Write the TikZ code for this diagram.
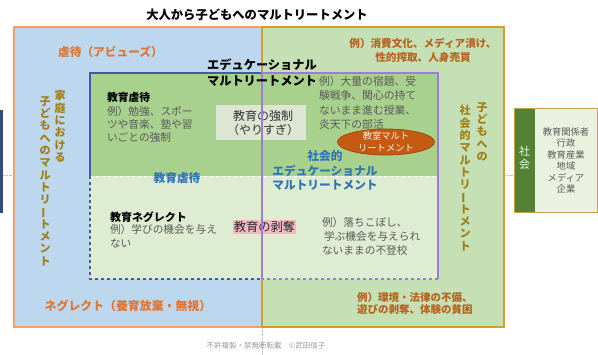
\documentclass[tikz,border=0pt]{standalone}
\usepackage{fontspec}
\usepackage{graphicx}
\setmainfont{Noto Sans CJK JP}
\usetikzlibrary{shapes.geometric}
\definecolor{bluefill}{HTML}{BDD7EE}
\definecolor{orangeline}{HTML}{F2A06A}
\definecolor{greenfill}{HTML}{C5E0B4}
\definecolor{goldline}{HTML}{C9A22E}
\definecolor{darkgreen}{HTML}{A9D18E}
\definecolor{lightgreen}{HTML}{DEEDD1}
\definecolor{innerblue}{HTML}{3C5DA3}
\definecolor{purp}{HTML}{9B7BE3}
\definecolor{forcebox}{HTML}{DCE6D3}
\definecolor{pinkbox}{HTML}{F4BAC3}
\definecolor{ellfill}{HTML}{C55A11}
\definecolor{ellline}{HTML}{A3470C}
\definecolor{socdark}{HTML}{548235}
\definecolor{soclight}{HTML}{EBF1DF}
\definecolor{socline}{HTML}{C2A54A}
\definecolor{orangetxt}{HTML}{DE7634}
\definecolor{browntxt}{HTML}{B8621F}
\definecolor{goldtxt}{HTML}{A37E16}
\definecolor{graytxt}{HTML}{595959}
\definecolor{bluetxt}{HTML}{2E75B6}
\newcommand{\vchoon}{\rotatebox[origin=c]{90}{ー}}
\newcommand{\fs}[2]{\fontsize{#1}{#2}\selectfont}
\tikzset{
  txt/.style={inner sep=0pt, outer sep=0pt},
  vtext/.style={txt, align=center, anchor=north, text=goldtxt, font=\bfseries\fs{11}{12.3}},
  example/.style={txt, align=left, anchor=base west, text=graytxt, font=\fs{10.7}{13}},
}
\begin{document}
\begin{tikzpicture}[x=1pt,y=-1pt]
\useasboundingbox (0,0) rectangle (598,354);
\fill[white] (0,0) rectangle (598,354);
% artifacts at edges
\fill[innerblue!80!black] (0,110) rectangle (3,213);
\draw[gray!50, densely dotted] (3,175) -- (14,175);
\draw[gray!50, densely dotted] (504,175) -- (514,175);
\draw[gray!50, densely dotted] (262,327) -- (262,354);
% outer regions
\fill[bluefill] (14,27) rectangle (262,327);
\fill[greenfill] (262,27) rectangle (504,327);
\draw[orangeline, line width=1.5pt] (262,27) -- (14,27) -- (14,327) -- (262,327);
\draw[goldline, line width=1.5pt] (262,27) -- (504,27) -- (504,327) -- (262,327);
\draw[goldline, line width=1.2pt] (262,27) -- (262,73);
\draw[goldline, line width=1.2pt] (262,279) -- (262,327);
% inner educational box
\fill[darkgreen] (90,73) rectangle (438,176);
\fill[lightgreen] (90,176) rectangle (438,279);
\draw[white, dashed, line width=1pt] (90,176) -- (438,176);
\draw[innerblue, line width=1.3pt] (262,73) -- (90,73) -- (90,176);
\draw[innerblue, line width=1.3pt, dashed] (90,176) -- (90,279) -- (262,279);
\draw[purp, line width=1.5pt] (262,279) -- (262,73) -- (438,73) -- (438,279);
\draw[purp, line width=1.5pt, dashed] (438,279) -- (262,279);
% title
\node[txt, anchor=base, font=\bfseries\fs{12.3}{14}] (title) at (257,19.7) {大人から子どもへのマルトリートメント};
% outer labels
\node[txt, anchor=base, text=orangetxt, font=\bfseries\fs{11.7}{14}] (abuse) at (110.5,56.4) {虐待（アビューズ）};
\node[txt, anchor=base, text=orangetxt, font=\bfseries\fs{11.9}{14}] (neglect) at (128,310.5) {ネグレクト（養育放棄・無視）};
\node[txt, anchor=base, align=center, text=browntxt, font=\bfseries\fs{10.6}{14}] (consume) at (423,61) {例）消費文化、メディア漬け、\\性的搾取、人身売買};
\node[txt, anchor=base west, align=left, text=browntxt, font=\bfseries\fs{10.5}{12.6}] (env) at (357,313.6) {例）環境・法律の不備、\\遊びの剥奪、体験の貧困};
% vertical labels
\node[vtext] (home1) at (60,90.5) {家\\庭\\に\\お\\け\\る};
\node[vtext] (home2) at (45,96.5) {子\\ど\\も\\へ\\の\\マ\\ル\\ト\\リ\\\vchoon\\ト\\メ\\ン\\ト};
\node[vtext] (soc1) at (482,102.5) {子\\ど\\も\\へ\\の};
\node[vtext] (soc2) at (465,105.5) {社\\会\\的\\マ\\ル\\ト\\リ\\\vchoon\\ト\\メ\\ン\\ト};
% inner titles
\node[txt, anchor=base, align=center, font=\bfseries\fs{12.2}{16}] (edu) at (262,85.6) {エデュケーショナル\\マルトリートメント};
\node[txt, anchor=base west, font=\bfseries\fs{10.8}{13}] (eduabuse) at (107,101) {教育虐待};
\node[example] (ex1) at (107,141) {例）勉強、スポー\\ツや音楽、塾や習\\いごとの強制};
\fill[forcebox] (216,105) rectangle (306,140);
\node[txt, anchor=base, align=center, text=black!80, font=\fs{12}{14}] (force) at (263,134.6) {教育の強制\\（やりすぎ）};
\draw[purp, line width=1.5pt] (262,105) -- (262,140);
\node[example, font=\fs{10.8}{14.6}] (ex2) at (319,128.8) {例）大量の宿題、受\\験戦争、関心の持て\\ないまま進む授業、\\炎天下の部活};
\node[ellipse, draw=ellline, fill=ellfill, line width=0.8pt, minimum width=97pt, minimum height=26pt, inner sep=0pt] (ell) at (386,142) {};
\node[txt, align=center, text=white!92!orange, font=\fs{9.3}{12}] (elltxt) at (386,142) {教室マルト\\リートメント};
\node[txt, anchor=base, align=center, text=bluetxt, font=\bfseries\fs{11.7}{14.6}] (socedu) at (325,189.7) {社会的\\エデュケーショナル\\マルトリートメント};
\node[txt, anchor=base, text=bluetxt, font=\bfseries\fs{11.7}{14}] (eduabuse2) at (177,182.4) {教育虐待};
\node[txt, anchor=base west, font=\bfseries\fs{11}{13}] (eduneg) at (110,221) {教育ネグレクト};
\node[example, font=\fs{10.7}{13.5}] (ex3) at (110,247) {例）学びの機会を与え\\ない};
\fill[pinkbox] (233,219.5) rectangle (296,233.5);
\node[txt, anchor=base, text=black!85, font=\fs{12.3}{14}] (depriv) at (264.5,231) {教育の剥奪};
\draw[purp, line width=1.5pt] (262,219.5) -- (262,233.5);
\node[example, font=\fs{10.7}{14}] (ex4) at (322,254) {例）落ちこぼし、\\\hspace{2pt}学ぶ機会を与えられ\\ないままの不登校};
% society box
\fill[socdark] (514,108) rectangle (535,212);
\fill[soclight] (535,108) rectangle (597,212);
\draw[socline, line width=1pt] (514,108) rectangle (597,212);
\node[txt, align=center, text=white!90!green, font=\fs{11}{13}] (soc) at (524.5,157.5) {社\\会};
\node[txt, anchor=base, align=center, text=graytxt, font=\fs{9.3}{11.4}] (soclist) at (566,192.5) {教育関係者\\行政\\教育産業\\地域\\メディア\\企業};
% footer
\node[txt, anchor=base, text=gray!80, font=\fs{7.5}{9}] (footer) at (266,348) {不許複製・禁無断転載　©武田信子};
\end{tikzpicture}
\end{document}
